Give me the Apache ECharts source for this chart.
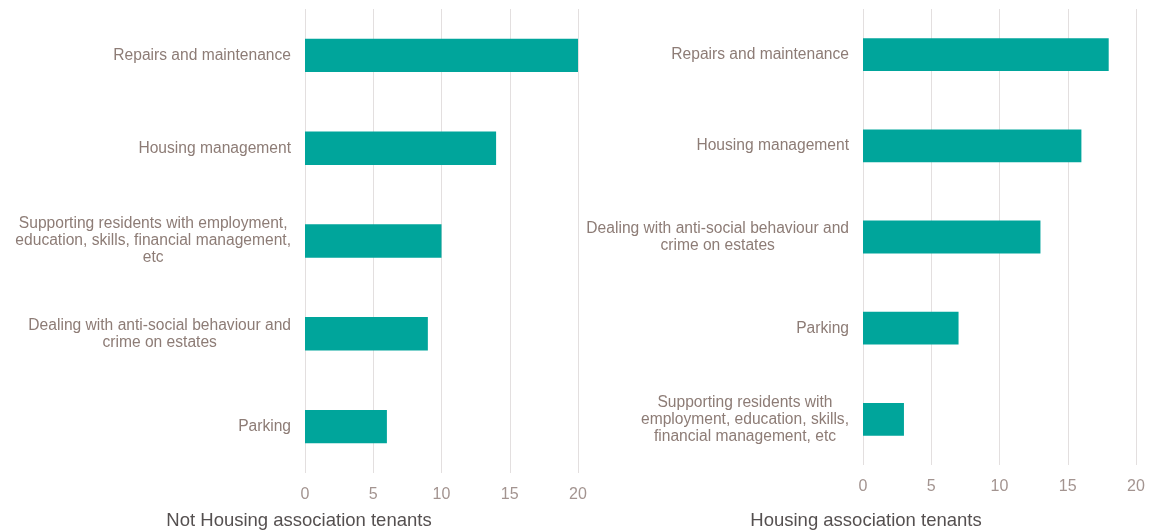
<!DOCTYPE html>
<html>
<head>
<meta charset="utf-8">
<script src="https://cdn.jsdelivr.net/npm/echarts@6/dist/echarts.min.js"></script>
<style>
  html, body { margin: 0; padding: 0; background: #ffffff; }
  #chart { width: 1151px; height: 531px; }
</style>
</head>
<body>
<div id="chart"></div>
<script>
// Priority areas, by tenant group
const leftCategories = [
  'Repairs and maintenance',
  'Housing management',
  'Supporting residents with employment,\neducation, skills, financial management,\netc',
  'Dealing with anti-social behaviour and\ncrime on estates',
  'Parking'
];
const leftValues = [20, 14, 10, 9, 6];

const rightCategories = [
  'Repairs and maintenance',
  'Housing management',
  'Dealing with anti-social behaviour and\ncrime on estates',
  'Parking',
  'Supporting residents with\nemployment, education, skills,\nfinancial management, etc'
];
const rightValues = [18, 16, 13, 7, 3];

const axisTicks = [0, 5, 10, 15, 20];
const leftTitle = 'Not Housing association tenants';
const rightTitle = 'Housing association tenants';

const FONT = '"Liberation Sans", Arial, sans-serif';
const BAR = '#00a59b';
const LABEL = '#8d7c76';
const TICK = '#a39490';
const GRID = '#e3dfdf';

function valueAxis(gridIndex) {
  return {
    type: 'value', gridIndex: gridIndex,
    min: axisTicks[0], max: axisTicks[axisTicks.length - 1], interval: 5,
    axisLine: { show: false }, axisTick: { show: false },
    splitLine: { show: true, lineStyle: { color: GRID, width: 1 } },
    axisLabel: { color: TICK, fontFamily: FONT, fontSize: 16, margin: 14 }
  };
}
// Multi-line category labels: block sits right of the text, lines centred within it
function categoryAxis(gridIndex, cats) {
  return {
    type: 'category', gridIndex: gridIndex, data: cats, inverse: true,
    axisLine: { show: false }, axisTick: { show: false },
    axisLabel: {
      margin: 14, align: 'right',
      formatter: v => v.split('\n').map(line => '{c|' + line + '}').join('\n'),
      rich: { c: { color: LABEL, fontFamily: FONT, fontSize: 15.6, lineHeight: 17, align: 'center' } }
    }
  };
}

const chart = echarts.init(document.getElementById('chart'));
chart.setOption({
  animation: false,
  backgroundColor: '#ffffff',
  title: [
    { text: leftTitle, left: 294, top: 506, textAlign: 'center',
      textStyle: { color: '#555050', fontFamily: FONT, fontSize: 18.5, fontWeight: 'normal' } },
    { text: rightTitle, left: 861, top: 506, textAlign: 'center',
      textStyle: { color: '#555050', fontFamily: FONT, fontSize: 18.5, fontWeight: 'normal' } }
  ],
  grid: [
    { left: 305, width: 273, top: 9, height: 464 },
    { left: 863, width: 273, top: 9, height: 456 }
  ],
  xAxis: [valueAxis(0), valueAxis(1)],
  yAxis: [categoryAxis(0, leftCategories), categoryAxis(1, rightCategories)],
  series: [
    { type: 'bar', xAxisIndex: 0, yAxisIndex: 0, data: leftValues,
      barWidth: '36%', itemStyle: { color: BAR } },
    { type: 'bar', xAxisIndex: 1, yAxisIndex: 1, data: rightValues,
      barWidth: '36%', itemStyle: { color: BAR } }
  ]
});
</script>
</body>
</html>
